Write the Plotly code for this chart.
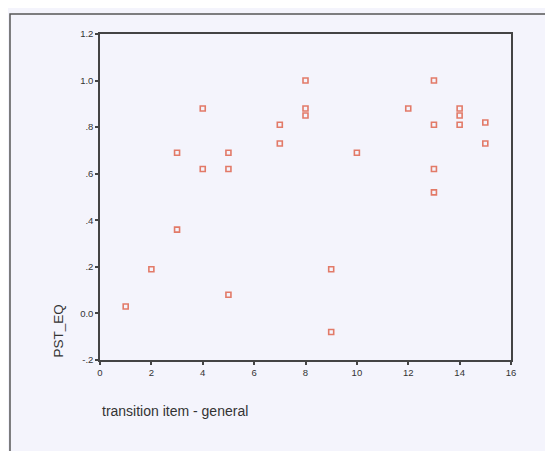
import plotly.graph_objects as go

x_vals = [1, 2, 3, 3, 4, 4, 5, 5, 5, 7, 7, 8, 8, 8, 9, 9, 10, 12, 13, 13, 13, 13, 14, 14, 14, 15, 15]
y_vals = [0.03, 0.19, 0.36, 0.69, 0.88, 0.62, 0.69, 0.62, 0.08, 0.81, 0.73, 1.0, 0.88, 0.85,
          0.19, -0.08, 0.69, 0.88, 1.0, 0.81, 0.62, 0.52, 0.88, 0.85, 0.81, 0.82, 0.73]

x_ticks = [0, 2, 4, 6, 8, 10, 12, 14, 16]
y_ticks = [-0.2, 0.0, 0.2, 0.4, 0.6, 0.8, 1.0, 1.2]
y_ticktext = ["-.2", "0.0", ".2", ".4", ".6", ".8", "1.0", "1.2"]

x_title = "transition item - general"
y_title = "PST_EQ"

fig = go.Figure()
fig.add_trace(go.Scatter(
    x=x_vals, y=y_vals, mode="markers",
    marker=dict(symbol="square-open", size=5, color="#e27a68", line=dict(width=1.6, color="#e27a68")),
    showlegend=False,
))

bg = "#f4f4fc"
axis_common = dict(
    showgrid=False, zeroline=False, showline=True, linecolor="#444", linewidth=1.5,
    ticks="outside", ticklen=3, tickwidth=2, tickcolor="#444",
    tickfont=dict(family="Liberation Sans, Arial", size=9.5, color="#333"),
)

fig.update_layout(
    width=553, height=451,
    margin=dict(l=92, r=50, t=26, b=99),
    paper_bgcolor=bg, plot_bgcolor=bg,
    xaxis=dict(range=[0, 16], tickvals=x_ticks, mirror=True, **axis_common),
    yaxis=dict(range=[-0.2, 1.2], tickvals=y_ticks, ticktext=y_ticktext, mirror=True, **axis_common),
    shapes=[dict(type="rect", xref="paper", yref="paper",
                 x0=-0.219, x1=1.2, y0=-0.5, y1=1.061,
                 line=dict(color="#555", width=1.5), fillcolor="rgba(0,0,0,0)", layer="above")],
    annotations=[
        dict(text=x_title, xref="paper", yref="paper", x=0.0, y=-0.156,
             xanchor="left", yanchor="middle", showarrow=False,
             font=dict(family="Liberation Sans, Arial", size=14, color="#333")),
        dict(text=y_title, xref="paper", yref="paper", x=-0.100, y=0.09,
             xanchor="center", yanchor="middle", showarrow=False, textangle=-90,
             font=dict(family="Liberation Sans, Arial", size=13.5, color="#333")),
    ],
)

fig.write_html("out.html")
